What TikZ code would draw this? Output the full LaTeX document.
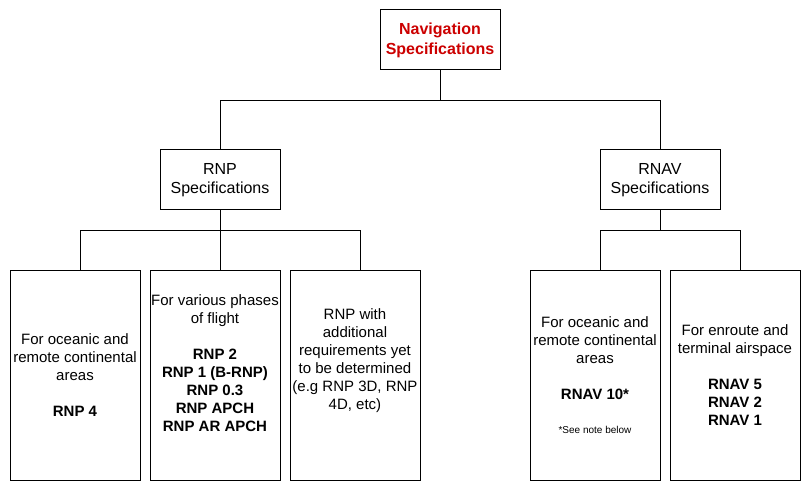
\documentclass[tikz,border=0pt]{standalone}
\usepackage{fontspec}
\setmainfont{Liberation Sans}
\usetikzlibrary{positioning}
\definecolor{navRed}{RGB}{204,0,0}

\begin{document}
\begin{tikzpicture}[
    x=1pt, y=-1pt,
    node distance=9pt,
    % Styles
    base/.style={
        draw=black,
        line width=1pt,
        fill=white,
        align=center,
        inner sep=1pt,
        font=\fontsize{15}{18}\selectfont
    },
    head/.style={
        base,
        font=\fontsize{16}{19}\selectfont,
        minimum width=120pt,
        minimum height=60pt
    },
    leaf/.style={
        base,
        minimum width=130pt,
        minimum height=210pt
    },
    link/.style={draw=black, line width=1pt}
]
    \useasboundingbox (0,0) rectangle (812,492);

    % ---------------------------------------------------------
    % 1. TOP: NAVIGATION SPECIFICATIONS
    % ---------------------------------------------------------
    \node[head, text=navRed, font=\fontsize{16}{20}\selectfont\bfseries] (nav) at (440,40)
        {Navigation\\Specifications};

    % ---------------------------------------------------------
    % 2. MIDDLE: RNP / RNAV
    % ---------------------------------------------------------
    \node[head] (rnp) at (220,180) {RNP\\Specifications};
    \node[head] (rnav) at (660,180) {RNAV\\Specifications};

    % ---------------------------------------------------------
    % 3. BOTTOM: RNP GROUP
    % ---------------------------------------------------------
    \node[leaf] (oceanic) at (75,375) {
        For oceanic and\\remote continental\\areas\\[18pt]
        \textbf{RNP 4}
    };
    \node[leaf, right=of oceanic] (phases) {
        For various phases\\of flight\\[18pt]
        \textbf{RNP 2}\\\textbf{RNP 1 (B-RNP)}\\\textbf{RNP 0.3}\\
        \textbf{RNP APCH}\\\textbf{RNP AR APCH}\\\strut
    };
    \node[leaf, right=of phases] (future) {
        RNP with\\additional\\requirements yet\\to be determined\\
        (e.g RNP 3D, RNP\\4D, etc)\\[8pt]\strut
    };

    % ---------------------------------------------------------
    % 4. BOTTOM: RNAV GROUP
    % ---------------------------------------------------------
    \node[leaf] (terminal) at (735,375) {
        For enroute and\\terminal airspace\\[18pt]
        \textbf{RNAV 5}\\\textbf{RNAV 2}\\\textbf{RNAV 1}
    };
    \node[leaf, left=of terminal] (remote) {
        For oceanic and\\remote continental\\areas\\[18pt]
        \textbf{RNAV 10*}\\[16pt]
        {\fontsize{10}{12}\selectfont *See note below}
    };

    % ---------------------------------------------------------
    % CONNECTIONS
    % ---------------------------------------------------------
    \draw[link] (nav.south) -- ++(0,30) coordinate (navbus);
    \draw[link] (rnp.north) |- (navbus) -| (rnav.north);

    \draw[link] (rnp.south) -- ++(0,20) coordinate (rnpbus);
    \draw[link] ([xshift=5pt]oceanic.north) |- (rnpbus) -| ([xshift=5pt]future.north);
    \draw[link] (rnpbus) -- (rnpbus |- phases.north);

    \draw[link] (rnav.south) -- ++(0,20) coordinate (rnavbus);
    \draw[link] ([xshift=5pt]remote.north) |- (rnavbus) -| ([xshift=5pt]terminal.north);

\end{tikzpicture}
\end{document}
